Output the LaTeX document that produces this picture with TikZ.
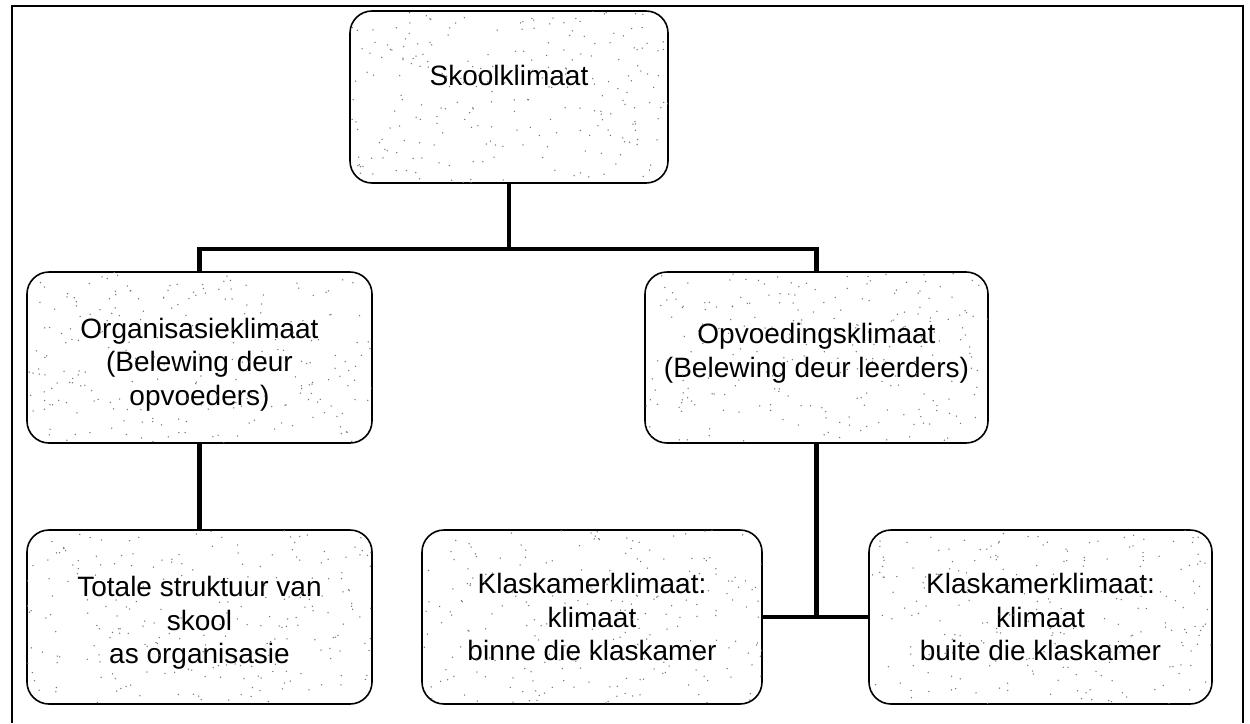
\documentclass[tikz,border=0pt]{standalone}
\usepackage{fontspec}
\setmainfont{Liberation Sans}
\usetikzlibrary{calc}

\tikzset{
  box/.style={draw=black, line width=1.6pt, rounded corners=22pt, fill=white,
    inner sep=0pt, outer sep=0pt},
  txt/.style={align=center, inner sep=0pt, font=\fontsize{28}{33.5}\selectfont},
  conn/.style={draw=black, line width=4.2pt},
  frameline/.style={draw=black, line width=1.6pt},
  speck/.style={fill=black!55}
}

% scatter of fine grey dots inside a box: #1 node, #2 width, #3 height
\newcommand{\stipple}[3]{%
  \begin{scope}
    \clip[rounded corners=22pt] (#1.south west) rectangle (#1.north east);
    \begin{scope}[shift={(#1.south west)}]
      \foreach \k in {1,...,240}{
        \fill[speck] ({rnd*#2},{-rnd*#3}) circle (0.75pt);
      }
    \end{scope}
  \end{scope}}

\begin{document}
\begin{tikzpicture}[x=1pt,y=-1pt]
  \useasboundingbox (0,0) rectangle (1250,723);
  \pgfmathsetseed{4711}

  % outer frame (open at the foot of the page)
  \draw[frameline] (12,723) -- (12,6) -- (1243,6) -- (1243,723);

  % boxes, each carrying its text as a centred label
  \node[box, minimum width=318pt, minimum height=172pt,
        label={[txt, yshift=22pt]center:Skoolklimaat}]
        (skool) at (509,97) {};
  \node[box, minimum width=345pt, minimum height=171pt,
        label={[txt, yshift=-7pt]center:{Organisasieklimaat\\(Belewing deur\\opvoeders)}}]
        (org) at (199.5,357.5) {};
  \node[box, minimum width=343pt, minimum height=171pt,
        label={[txt, yshift=4pt]center:{Opvoedingsklimaat\\(Belewing deur leerders)}}]
        (opv) at (816.5,357.5) {};
  \node[box, minimum width=345pt, minimum height=174pt,
        label={[txt, yshift=-6pt]center:{Totale struktuur van\\skool\\as organisasie}}]
        (tot) at (199.5,617) {};
  \node[box, minimum width=340pt, minimum height=174pt,
        label={[txt]center:{Klaskamerklimaat:\\klimaat\\binne die klaskamer}}]
        (binne) at (592,617) {};
  \node[box, minimum width=343pt, minimum height=174pt,
        label={[txt]center:{Klaskamerklimaat:\\klimaat\\buite die klaskamer}}]
        (buite) at (1040.5,617) {};

  % stipple texture
  \stipple{skool}{318}{172}
  \stipple{org}{345}{171}
  \stipple{opv}{343}{171}
  \stipple{tot}{345}{174}
  \stipple{binne}{340}{174}
  \stipple{buite}{343}{174}

  % connectors
  \coordinate (hub) at (509,249);
  \draw[conn] (skool.south) -- (hub);
  \draw[conn] (org.north) |- (hub) -| (opv.north);
  \draw[conn] (org.south) -- (tot.north);
  \coordinate (fork) at (opv.south |- binne.east);
  \draw[conn] (opv.south) -- (fork);
  \draw[conn] (binne.east) -- (buite.west);
\end{tikzpicture}
\end{document}
